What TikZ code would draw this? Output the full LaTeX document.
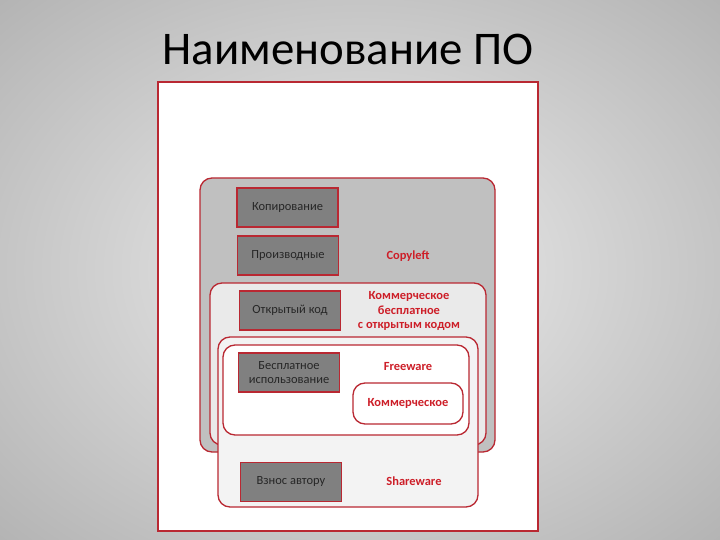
\documentclass[tikz,border=0pt]{standalone}
\usepackage{fontspec}
\setmainfont{Carlito}

\definecolor{bgLight}{RGB}{218,218,218}
\definecolor{bgDark}{RGB}{156,156,156}
\definecolor{lineRed}{RGB}{185,40,50}
\definecolor{textRed}{RGB}{205,30,40}
\definecolor{itemGray}{RGB}{128,128,128}
\definecolor{copyGray}{RGB}{192,192,192}
\definecolor{openGray}{RGB}{234,234,234}
\definecolor{shareGray}{RGB}{243,243,243}

\pgfdeclareradialshading{bgglow}{\pgfpoint{0bp}{0bp}}{color(0bp)=(bgLight); color(12bp)=(bgLight); color(50bp)=(bgDark)}

\begin{document}
\begin{tikzpicture}[x=1bp,y=-1bp,
  frame/.style={draw=lineRed,line width=1.3bp,rounded corners=12bp},
  item/.style={draw=lineRed,line width=1.8bp,fill=itemGray,minimum width=101bp,
    minimum height=39bp,inner sep=0pt,align=center,text=black!85,
    font=\fontsize{12.5}{14.5}\selectfont},
  tag/.style={text=textRed,align=center,font=\bfseries\fontsize{12.5}{14.5}\selectfont}]

  \shade[shading=bgglow] (0,0) rectangle (720,540);
  \useasboundingbox (0,0) rectangle (720,540);

  \node (TITLE) at (348,49) {\fontsize{47}{50}\selectfont Наименование ПО};

  % white sheet
  \draw[lineRed,fill=white,line width=1.3bp] (158,82) rectangle (538,531);

  % nested licence areas
  \draw[frame,fill=copyGray] (200,178) rectangle (495,452);
  \draw[frame,fill=openGray] (210,283) rectangle (486,445);
  \draw[frame,fill=shareGray] (218,337) rectangle (478,507);
  \draw[frame,fill=white] (223,345) rectangle (469,435);

  \node (KOP) at (287.5,207.5) [item] {Копирование};
  \node (PROIZ) at (288,255.5) [item] {Производные};
  \node (OTKR) at (290,310.5) [item] {Открытый код};
  \node (BESPL) at (289,372.5) [item] {Бесплатное\\использование};
  \node (VZNOS) at (291,482) [item] {Взнос автору};

  \node (COPYLEFT) at (408,256) [tag] {Copyleft};
  \node (KOMBESPL) at (409,311) [tag] {Коммерческое\\бесплатное\\с открытым кодом};
  \node (FREEWARE) at (408,367) [tag] {Freeware};
  \node (KOMM) at (408,403.5) [tag,frame,fill=white,minimum width=110bp,minimum height=41bp] {Коммерческое};
  \node (SHAREWARE) at (414,481) [tag] {Shareware};

\end{tikzpicture}
\end{document}
